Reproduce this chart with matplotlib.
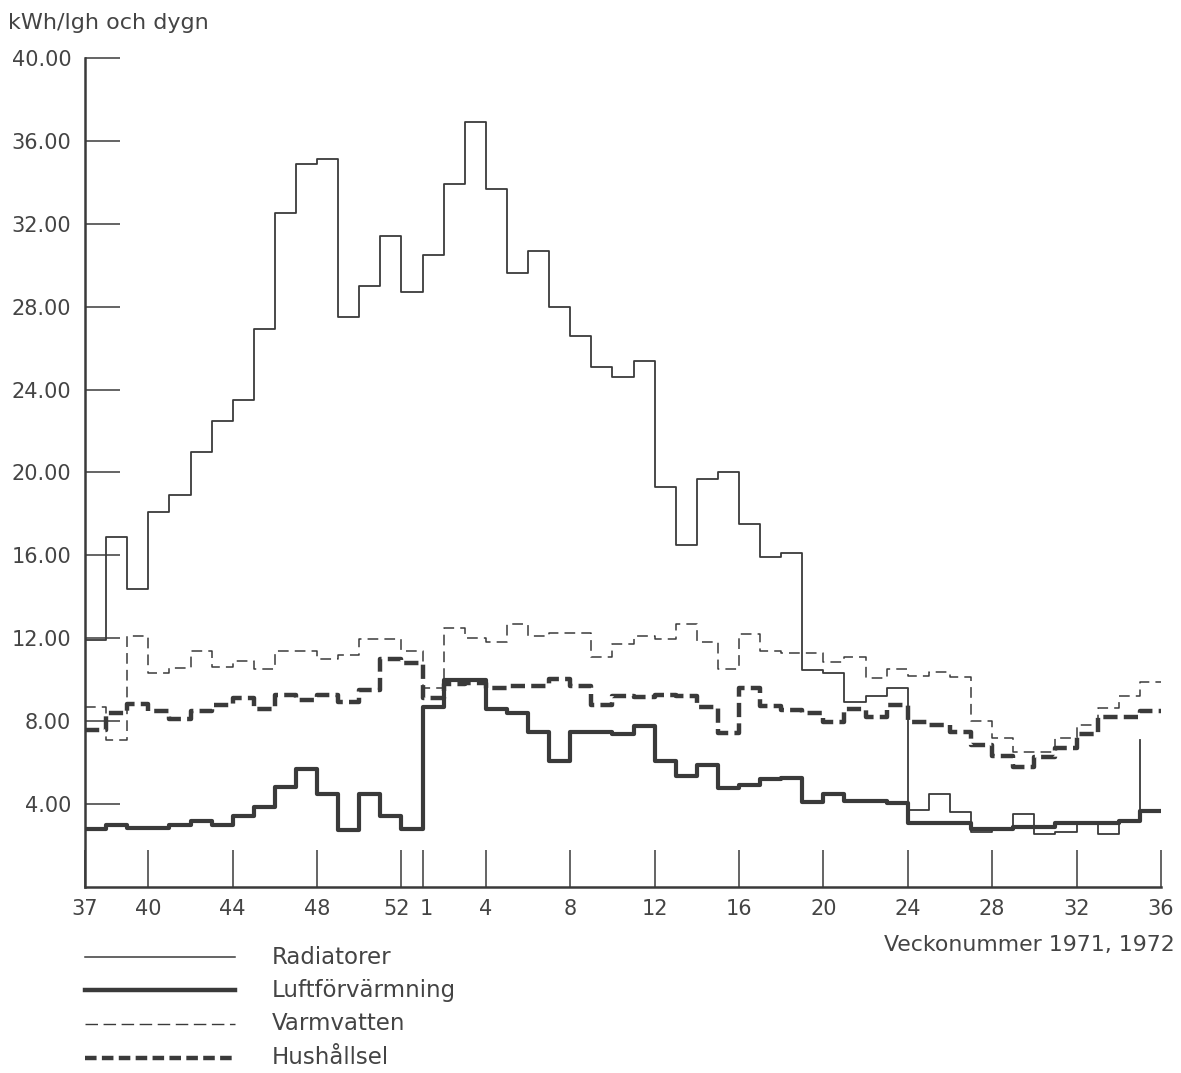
import numpy as np
import matplotlib
matplotlib.use("Agg")
import matplotlib.pyplot as plt
from matplotlib.lines import Line2D
from matplotlib.transforms import ScaledTranslation

# week numbers on the axis: 37..52 of 1971, then 1..36 of 1972
weeks = list(range(37, 53)) + list(range(1, 37))
tick_weeks = [37, 40, 44, 48, 52, 1, 4, 8, 12, 16, 20, 24, 28, 32, 36]

# weekly values, kWh per flat and day, weeks 37/1971 .. 35/1972
radiatorer = [11.9, 16.9, 14.4, 18.1, 18.9, 21.0, 22.5, 23.5, 26.9, 32.5,
              34.9, 35.1, 27.5, 29.0, 31.4, 28.7, 30.5, 33.9, 36.9, 33.7,
              29.6, 30.7, 28.0, 26.6, 25.1, 24.6, 25.4, 19.3, 16.5, 19.7,
              20.0, 17.5, 15.9, 16.1, 10.45, 10.3, 8.9, 9.2, 9.6, 3.7,
              4.5, 3.6, 2.65, 2.8, 3.5, 2.55, 2.65, 3.1, 2.55, 3.2, 7.1]
luftforvarmning = [2.8, 3.0, 2.85, 2.85, 3.0, 3.2, 3.0, 3.4, 3.85, 4.8,
                   5.7, 4.5, 2.75, 4.5, 3.4, 2.8, 8.7, 10.0, 10.0, 8.6,
                   8.4, 7.5, 6.1, 7.5, 7.5, 7.4, 7.75, 6.1, 5.35, 5.9,
                   4.75, 4.9, 5.2, 5.25, 4.1, 4.5, 4.15, 4.15, 4.05, 3.1,
                   3.1, 3.1, 2.8, 2.8, 2.9, 2.9, 3.1, 3.1, 3.1, 3.2, 3.65]
varmvatten = [8.7, 7.1, 12.1, 10.3, 10.55, 11.4, 10.6, 10.9, 10.5, 11.4,
              11.4, 11.0, 11.2, 11.95, 11.95, 11.4, 9.6, 12.5, 12.0, 11.8,
              12.7, 12.1, 12.25, 12.25, 11.1, 11.7, 12.1, 11.95, 12.7, 11.8,
              10.5, 12.2, 11.4, 11.3, 11.3, 10.85, 11.1, 10.1, 10.5, 10.2,
              10.35, 10.15, 8.0, 7.2, 6.5, 6.5, 7.2, 7.8, 8.65, 9.2, 9.9]
hushallsel = [7.55, 8.4, 8.85, 8.5, 8.1, 8.5, 8.8, 9.1, 8.6, 9.25,
              9.0, 9.25, 8.9, 9.5, 11.0, 10.8, 9.1, 9.8, 9.85, 9.6,
              9.7, 9.7, 10.05, 9.7, 8.8, 9.2, 9.15, 9.25, 9.2, 8.7,
              7.45, 9.6, 8.75, 8.55, 8.4, 7.95, 8.6, 8.2, 8.8, 7.95,
              7.8, 7.5, 6.85, 6.3, 5.8, 6.25, 6.7, 7.4, 8.2, 8.2, 8.5]

ink = "#3a3a3a"
txt = "#444444"
plt.rcParams["font.family"] = ["DejaVu Sans"]

fig = plt.figure(figsize=(11.81, 10.73), dpi=100)
ax = fig.add_axes([0.072, 0.1734, 0.911, 0.7726])

n = len(luftforvarmning)
edges = np.arange(n + 1)


def steps(values):
    # repeat the last value so the final week gets its own flat step
    return np.append(values, values[-1])


ax.step(edges, steps(varmvatten), where="post", color=ink, lw=1.1,
        dashes=(7, 4))
ax.step(edges, steps(hushallsel), where="post", color=ink, lw=3.2,
        dashes=(3.2, 1.4))
ax.step(edges, steps(luftforvarmning), where="post", color=ink, lw=3.0)
# the last radiator reading only shows as a rise at the start of week 35
ax.step(edges[:-1], radiatorer, where="post", color=ink, lw=1.3)

ax.set_xlim(0, n)
ax.set_ylim(0, 40)

ax.set_xticks([weeks.index(w) for w in tick_weeks])
ax.set_xticklabels([str(w) for w in tick_weeks])
ax.set_yticks(np.arange(4, 41, 4))
ax.set_yticklabels([f"{v:.2f}" for v in np.arange(4, 41, 4)])

for side in ("top", "right"):
    ax.spines[side].set_visible(False)
for side in ("left", "bottom"):
    ax.spines[side].set_color(ink)
    ax.spines[side].set_linewidth(1.8)

ax.tick_params(axis="both", direction="in", width=1.1,
               color=ink, labelcolor=txt, labelsize=15)
ax.tick_params(axis="y", length=25, pad=10)
ax.tick_params(axis="x", length=27, pad=9)

# pull "52" and "1" apart at the year change
for lab in ax.get_xticklabels():
    shift = {"52": -5, "1": 4}.get(lab.get_text(), 0)
    if shift:
        lab.set_transform(lab.get_transform() +
                          ScaledTranslation(shift / 100, 0, fig.dpi_scale_trans))

fig.text(0.007, 0.979, "kWh/lgh och dygn", fontsize=16, color=txt,
         ha="left", va="center")
fig.text(0.995, 0.119, "Veckonummer 1971, 1972", fontsize=15.8, color=txt,
         ha="right", va="center")

# legend drawn underneath the axis
legend_rows = [
    ("Radiatorer", dict(lw=1.1)),
    ("Luftförvärmning", dict(lw=3.2)),
    ("Varmvatten", dict(lw=1.0, dashes=(9, 4))),
    ("Hushållsel", dict(lw=3.2, dashes=(2.6, 1.2))),
]
row_y = [957, 990, 1024, 1058]
for (label, style), y in zip(legend_rows, row_y):
    yf = 1 - y / 1073
    fig.add_artist(Line2D([85 / 1181, 235 / 1181], [yf, yf],
                          transform=fig.transFigure, color=ink, **style))
    fig.text(272 / 1181, yf, label, fontsize=16.5, color=txt,
             ha="left", va="center")

fig.savefig("out.png", dpi=100, facecolor="white")
